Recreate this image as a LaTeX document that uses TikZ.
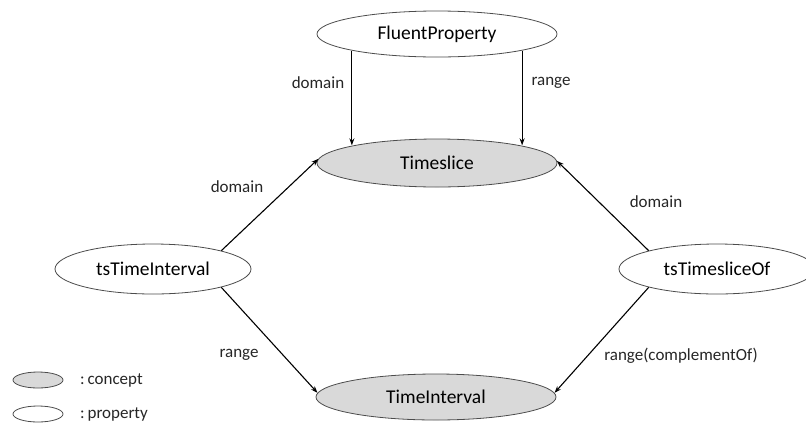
\documentclass[tikz,border=0pt]{standalone}
\usepackage{fontspec}
\setmainfont{Carlito}
\usepackage{tikz}
\usetikzlibrary{shapes.geometric,arrows.meta}

\tikzset{
  concept/.style={shape=ellipse, draw=black!70, fill=black!15, line width=0.8pt, minimum width=240pt, minimum height=48pt, inner sep=0pt, font=\fontsize{19.5}{22}\selectfont},
  property/.style={shape=ellipse, draw=black!70, fill=white, line width=0.8pt, minimum width=240pt, minimum height=46pt, inner sep=0pt, font=\fontsize{19.5}{22}\selectfont},
  rel/.style={draw=black, line width=1.1pt, -{Stealth[length=7pt,width=5pt]}},
  lbl/.style={inner sep=0pt, text=black!85, font=\fontsize{17}{20}\selectfont}
}

\begin{document}
\begin{tikzpicture}[x=1pt, y=-1pt]
\useasboundingbox (0,0) rectangle (806,424);

\node[property](FluentProperty) at (437,34) {FluentProperty};
\node[concept](Timeslice) at (437,163) {Timeslice};
\node[concept, minimum height=46pt](TimeInterval) at (436,397) {TimeInterval};
\node[property, minimum width=196pt, minimum height=50pt](tsTimeInterval) at (153,269) {tsTimeInterval};
\node[property, minimum width=196pt, minimum height=50pt](tsTimesliceOf) at (717,269) {tsTimesliceOf};

\node[lbl](domain1) at (318,83) {domain};
\node[lbl](range1) at (551,83) {range};
\node[lbl](domain2) at (237,187) {domain};
\node[lbl](range2) at (239,355) {range};
\node[lbl](domain3) at (656,202) {domain};
\node[lbl](range3) at (681,356) {range(complementOf)};


\draw[rel] (FluentProperty.191) -- (FluentProperty.191 |- Timeslice.168);
\draw[rel] (FluentProperty.-11) -- (FluentProperty.-11 |- Timeslice.12);

\draw[rel] (tsTimeInterval.15) -- (Timeslice.178);
\draw[rel] (tsTimeInterval.-15) -- (TimeInterval.178);

\draw[rel] (tsTimesliceOf.165) -- (Timeslice.1);
\draw[rel] (tsTimesliceOf.195) -- (TimeInterval.2);

% legend
\node[concept, minimum width=50pt, minimum height=16pt](concept) at (38,380) {};
\node[property, minimum width=50pt, minimum height=16pt](property) at (38,414) {};
\node[lbl, anchor=west](conceptText) at (80,380) {:\,concept};
\node[lbl, anchor=west](propertyText) at (80,414) {:\,property};
\end{tikzpicture}
\end{document}
